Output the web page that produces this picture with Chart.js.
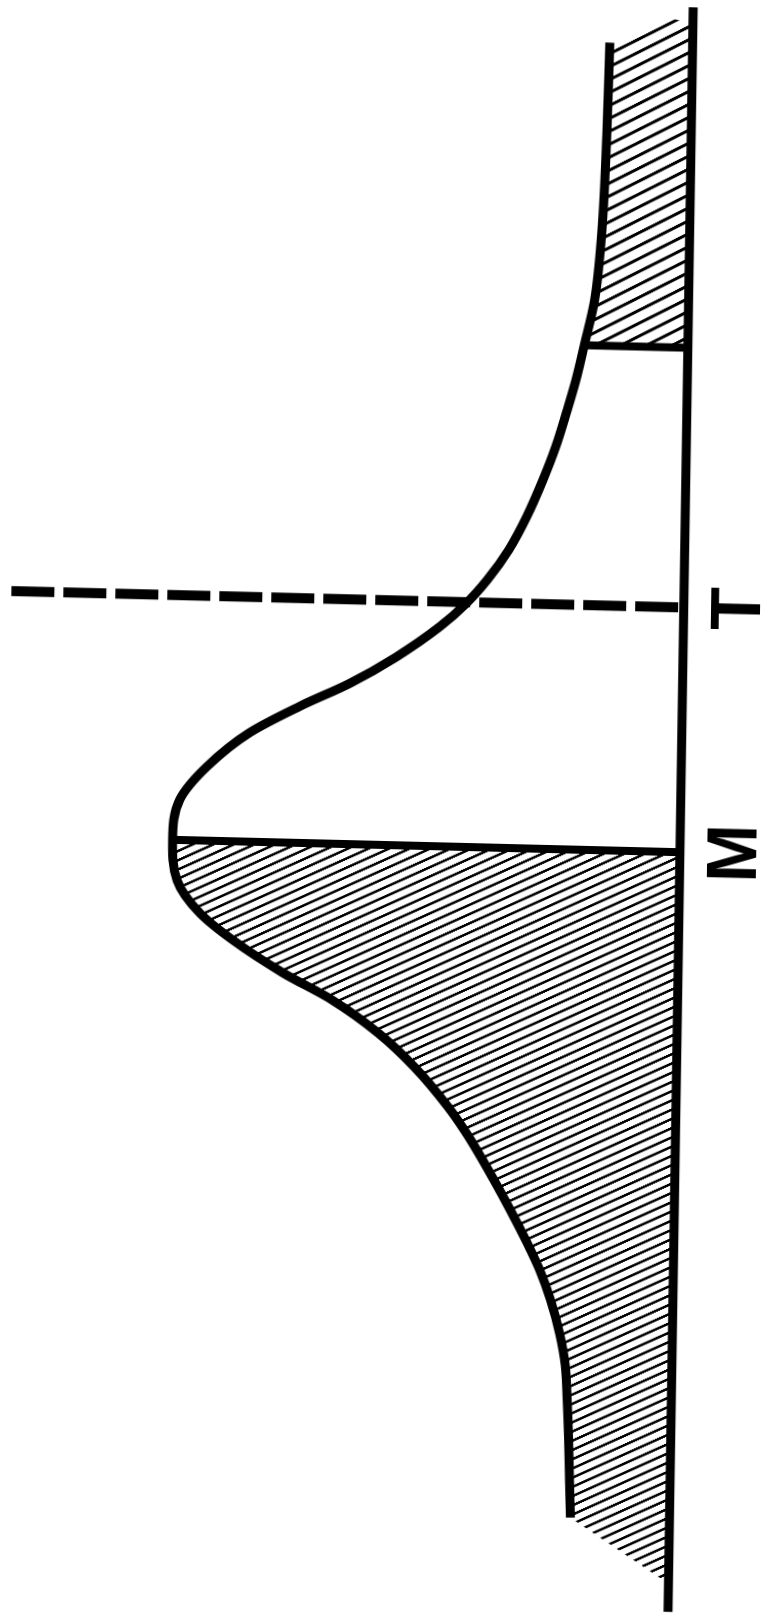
<!DOCTYPE html>
<html><head><meta charset="utf-8">
<script src="https://cdn.jsdelivr.net/npm/chart.js@4/dist/chart.umd.min.js"></script>
<style>
html,body{margin:0;padding:0;background:#fff;overflow:hidden}
#wrap{width:762px;height:1617px;transform-origin:381px 808.5px;transform:matrix(1,0.0244,-0.0157,1,0,0)}
canvas{display:block}
</style></head><body>
<div id="wrap"><canvas id="c" width="762" height="1617"></canvas></div>
<script>
// position along the (rotated) distribution axis, bottom = 0
const positions = [156.3,147.4,137.5,130.8,126.3,122.9,119.6,116.2,112.9,109.2,105.9,102.9,100.5,98.1,95.0,92.3,89.9,87.2,83.7,80.4,76.4,72.4,69.2,66.6,63.5,60.9,57.8,54.5,50.6,48.1,45.8,40.6,37.4,34.7,31.8,28.5,25.4,21.9,18.0,14.0,10.3];
// curve height (distance from the baseline), peak = ~100
const density = [16.3,16.6,17.3,18.5,20.4,21.9,23.7,25.7,28.1,31.2,34.6,38.7,42.8,48.0,56.5,65.5,75.3,85.0,93.4,98.6,99.9,98.9,94.3,87.7,77.8,67.9,58.9,51.6,44.8,41.2,38.3,32.3,28.9,26.3,24.1,22.2,21.0,20.5,20.1,19.8,19.5];
const markLabels = ['M', 'T'];
const markPositions = [76.4, 100.6];
const cutoffPosition = 126.3;
const dashedLineDensity = 132.4;
const baselineRange = [1.2, 160.1];
const hatchTopDensity = [4.9, 0];
const hatchTopPosition = [158.9, 158.4];
const hatchBottomPosition = [4.0];
const labelDensity = -10;

const canvas = document.getElementById('c');
const ctx = canvas.getContext('2d');

function hatch(spacing, thickness, angle) {
  const tile = document.createElement('canvas');
  tile.width = 8; tile.height = 20;
  const g = tile.getContext('2d');
  const k = 20 / spacing;
  g.fillStyle = '#000';
  g.fillRect(0, 0, 8, thickness * k);
  const p = ctx.createPattern(tile, 'repeat');
  p.setTransform(new DOMMatrix().rotate(-angle).scale(1 / k));
  return p;
}

const curve = positions.map((t, i) => ({x: density[i], y: t}));
const iM = positions.indexOf(markPositions[0]);
const iC = positions.indexOf(cutoffPosition);

const upperHatch = [{x: 0, y: cutoffPosition}];
for (let i = iC; i >= 0; i--) upperHatch.push({x: density[i], y: positions[i]});
hatchTopDensity.forEach((d, i) => upperHatch.push({x: d, y: hatchTopPosition[i]}));

const lowerHatch = [{x: 0, y: markPositions[0]}];
for (let i = iM; i < positions.length; i++) lowerHatch.push({x: density[i], y: positions[i]});
hatchBottomPosition.forEach(t => lowerHatch.push({x: 0, y: t}));

const lineBase = {pointRadius: 0, borderColor: '#000', fill: false, clip: false, borderCapStyle: 'butt', borderJoinStyle: 'round'};

const labelPlugin = {
  id: 'marks',
  afterDatasetsDraw(chart) {
    const c = chart.ctx, xs = chart.scales.x, ys = chart.scales.y;
    c.save();
    c.fillStyle = '#000';
    c.font = 'bold 70px "Liberation Sans", Arial, sans-serif';
    c.textAlign = 'center';
    c.textBaseline = 'alphabetic';
    markLabels.forEach((lab, i) => {
      c.save();
      c.translate(xs.getPixelForValue(labelDensity), ys.getPixelForValue(markPositions[i]));
      c.rotate(-Math.PI / 2);
      c.fillText(lab, 0, 25);
      c.restore();
    });
    c.restore();
  }
};

new Chart(ctx, {
  type: 'line',
  data: {
    datasets: [
      Object.assign({}, lineBase, {data: curve, borderWidth: 9, cubicInterpolationMode: 'monotone'}),
      Object.assign({}, lineBase, {data: baselineRange.map(t => ({x: 0, y: t})), borderWidth: 9}),
      Object.assign({}, lineBase, {data: [{x: 0, y: markPositions[0]}, {x: density[iM], y: markPositions[0]}], borderWidth: 8}),
      Object.assign({}, lineBase, {data: [{x: 0, y: cutoffPosition}, {x: density[iC], y: cutoffPosition}], borderWidth: 8}),
      Object.assign({}, lineBase, {data: [{x: dashedLineDensity, y: markPositions[1]}, {x: 0, y: markPositions[1]}], borderWidth: 10, borderDash: [43, 9]}),
      {data: upperHatch, fill: 'shape', borderWidth: 0, borderColor: 'rgba(0,0,0,0)', pointRadius: 0, tension: 0, clip: false,
       backgroundColor: hatch(11.5, 3.0, 28)},
      {data: lowerHatch, fill: 'shape', borderWidth: 0, borderColor: 'rgba(0,0,0,0)', pointRadius: 0, tension: 0, clip: false,
       backgroundColor: hatch(8.4, 2.5, 25.5)}
    ]
  },
  options: {
    indexAxis: 'y',
    responsive: false,
    animation: false,
    events: [],
    layout: {padding: 0},
    scales: {
      x: {type: 'linear', reverse: true, min: -16, max: 134, display: false},
      y: {type: 'linear', min: 0, max: 160, display: false}
    },
    plugins: {legend: {display: false}, tooltip: {enabled: false}}
  },
  plugins: [labelPlugin]
});
</script>
</body></html>
